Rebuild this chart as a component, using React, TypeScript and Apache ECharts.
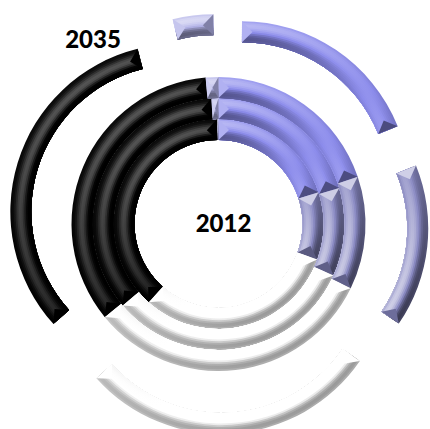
import React, { useEffect, useRef } from "react";
import * as echarts from "echarts";

const years = ["2012", "", "", "2035"];
const sliceNames = ["Source A", "Source B", "Source C", "Source D", "Source E"];
const ring2012 = [20.1, 10.4, 31.1, 38.2, 0.2];
const ring2020 = [20.4, 11.3, 32.1, 35.3, 0.9];
const ring2030 = [19.8, 12.4, 31.9, 34.5, 1.4];
const ring2035 = [18.9, 15.7, 28.8, 32.8, 3.9];
const rings = [ring2012, ring2020, ring2030, ring2035];
const baseColors = [[140, 140, 236], [136, 136, 194], [255, 255, 255], [0, 0, 0], [178, 178, 232]];
const profiles = [
  { c: 0.05, e: 0.1, a: 0.5, q: 1, f: 0.02, g: 0, h: 0 },
  { c: 0.1, e: 0.12, a: 0.62, q: 1, f: 0.0, g: 0, h: 0 },
  { c: 0.0, e: 0.05, a: 0.14, q: 1, f: -0.02, g: 0.24, h: 0 },
  { c: 0.3, e: 0.0, a: 0.05, q: 4, f: 0.01, g: 0, h: 1 },
  { c: 0.08, e: 0.08, a: 0.55, q: 1, f: 0.05, g: 0, h: 0 },
];

const CX = 218.5, CY = 224, R0 = 84, W = 21, OFFSET = 42, BANDS = 12;
const L = [-0.6, -0.8];

function shade(base: number[], v: number) {
  const k = Math.max(-1, Math.min(1, v));
  const rgb = base.map((b) => Math.round(k > 0 ? b + (255 - b) * k : b * (1 + k)));
  return `rgb(${rgb.join(",")})`;
}

function tilt(t: number) {
  return Math.sin(t * Math.PI * 0.8);
}

function bandColor(idx: number, t: number, r: number) {
  const p = profiles[idx];
  const tau = tilt(t);
  const stops = [0, 0.25, 0.5, 0.75, 1].map((o) => {
    const d = 1 - 2 * o;
    const centre = p.c * Math.pow(1 - t * t, p.q) * (p.h ? Math.max(0.1, 0.55 + 0.55 * d) : 1);
    return { offset: o, color: shade(baseColors[idx], centre - p.e * t * t - p.g * Math.max(0, tau) + p.a * tau * d) };
  });
  return {
    type: "linear", global: true,
    x: CX + r * L[0], y: CY + r * L[1], x2: CX - r * L[0], y2: CY - r * L[1],
    colorStops: stops,
  };
}

function buildPies() {
  const out: any[] = [];
  rings.forEach((values, ri) => {
    const rIn = R0 + ri * W;
    for (let b = BANDS - 1; b >= 0; b--) {
      const rOut = rIn + (W * (b + 1)) / BANDS;
      const t = ((b + 0.5) / BANDS) * 2 - 1;
      out.push({
        type: "pie",
        silent: true,
        center: [CX, CY],
        radius: [rIn, rOut],
        startAngle: 90,
        selectedMode: ri === 3 ? "multiple" : false,
        selectedOffset: OFFSET,
        label: { show: false },
        labelLine: { show: false },
        data: values.map((v, i) => ({
          name: sliceNames[i],
          value: v,
          selected: ri === 3,
          itemStyle: { color: bandColor(i, t, rOut) },
          select: { itemStyle: { color: bandColor(i, t, rOut) } },
        })),
      });
    }
  });
  return out;
}

function facetData() {
  const out: number[][] = [];
  rings.forEach((values, ri) => values.forEach((_, si) => out.push([ri, si])));
  return out;
}

function renderFacets(_: any, api: any) {
  const ri = api.value(0), si = api.value(1);
  const values = rings[ri];
  const sum = values.reduce((a, b) => a + b, 0);
  const a0 = (values.slice(0, si).reduce((a, b) => a + b, 0) / sum) * 2 * Math.PI;
  const a1 = a0 + (values[si] / sum) * 2 * Math.PI;
  const mid = (a0 + a1) / 2;
  const off = ri === 3 ? OFFSET : 0;
  const cx = CX + off * Math.sin(mid), cy = CY - off * Math.cos(mid);
  const rIn = R0 + ri * W, rOut = rIn + W, rM = rIn + W / 2;
  const pt = (r: number, a: number) => [cx + r * Math.sin(a), cy - r * Math.cos(a)];
  const depth = Math.min(W / 2 / rM, (a1 - a0) / 2);
  const p = profiles[si];
  const facet = (edge: number, dir: number) => {
    const nx = -dir * Math.cos(edge), ny = -dir * Math.sin(edge);
    const d = nx * L[0] + ny * L[1];
    return {
      type: "polygon",
      silent: true,
      shape: { points: [pt(rIn, edge), pt(rOut, edge), pt(rM, edge + dir * depth)] },
      style: { fill: shade(baseColors[si], p.f + (si === 2 ? 0.2 : p.a) * d) },
    };
  };
  return { type: "group", children: [facet(a0, 1), facet(a1, -1)] };
}

export default function App() {
  const ref = useRef<HTMLDivElement>(null);
  useEffect(() => {
    const chart = echarts.init(ref.current!, null, { renderer: "svg" });
    chart.setOption({
      animation: false,
      backgroundColor: "#ffffff",
      series: [
        ...buildPies(),
        { type: "custom", coordinateSystem: "none", silent: true, data: facetData(), renderItem: renderFacets, z: 5 },
      ],
      graphic: [
        { type: "text", x: 223.5, y: 222, z: 20, style: { text: years[0], font: "900 24px Lato", fill: "#000", align: "center", verticalAlign: "middle" } },
        { type: "text", x: 93, y: 38, z: 20, style: { text: years[3], font: "900 24px Lato", fill: "#000", align: "center", verticalAlign: "middle" } },
      ],
    });
    return () => chart.dispose();
  }, []);
  return <div ref={ref} style={{ position: "absolute", left: 0, top: 0, width: 430, height: 429 }} />;
}
